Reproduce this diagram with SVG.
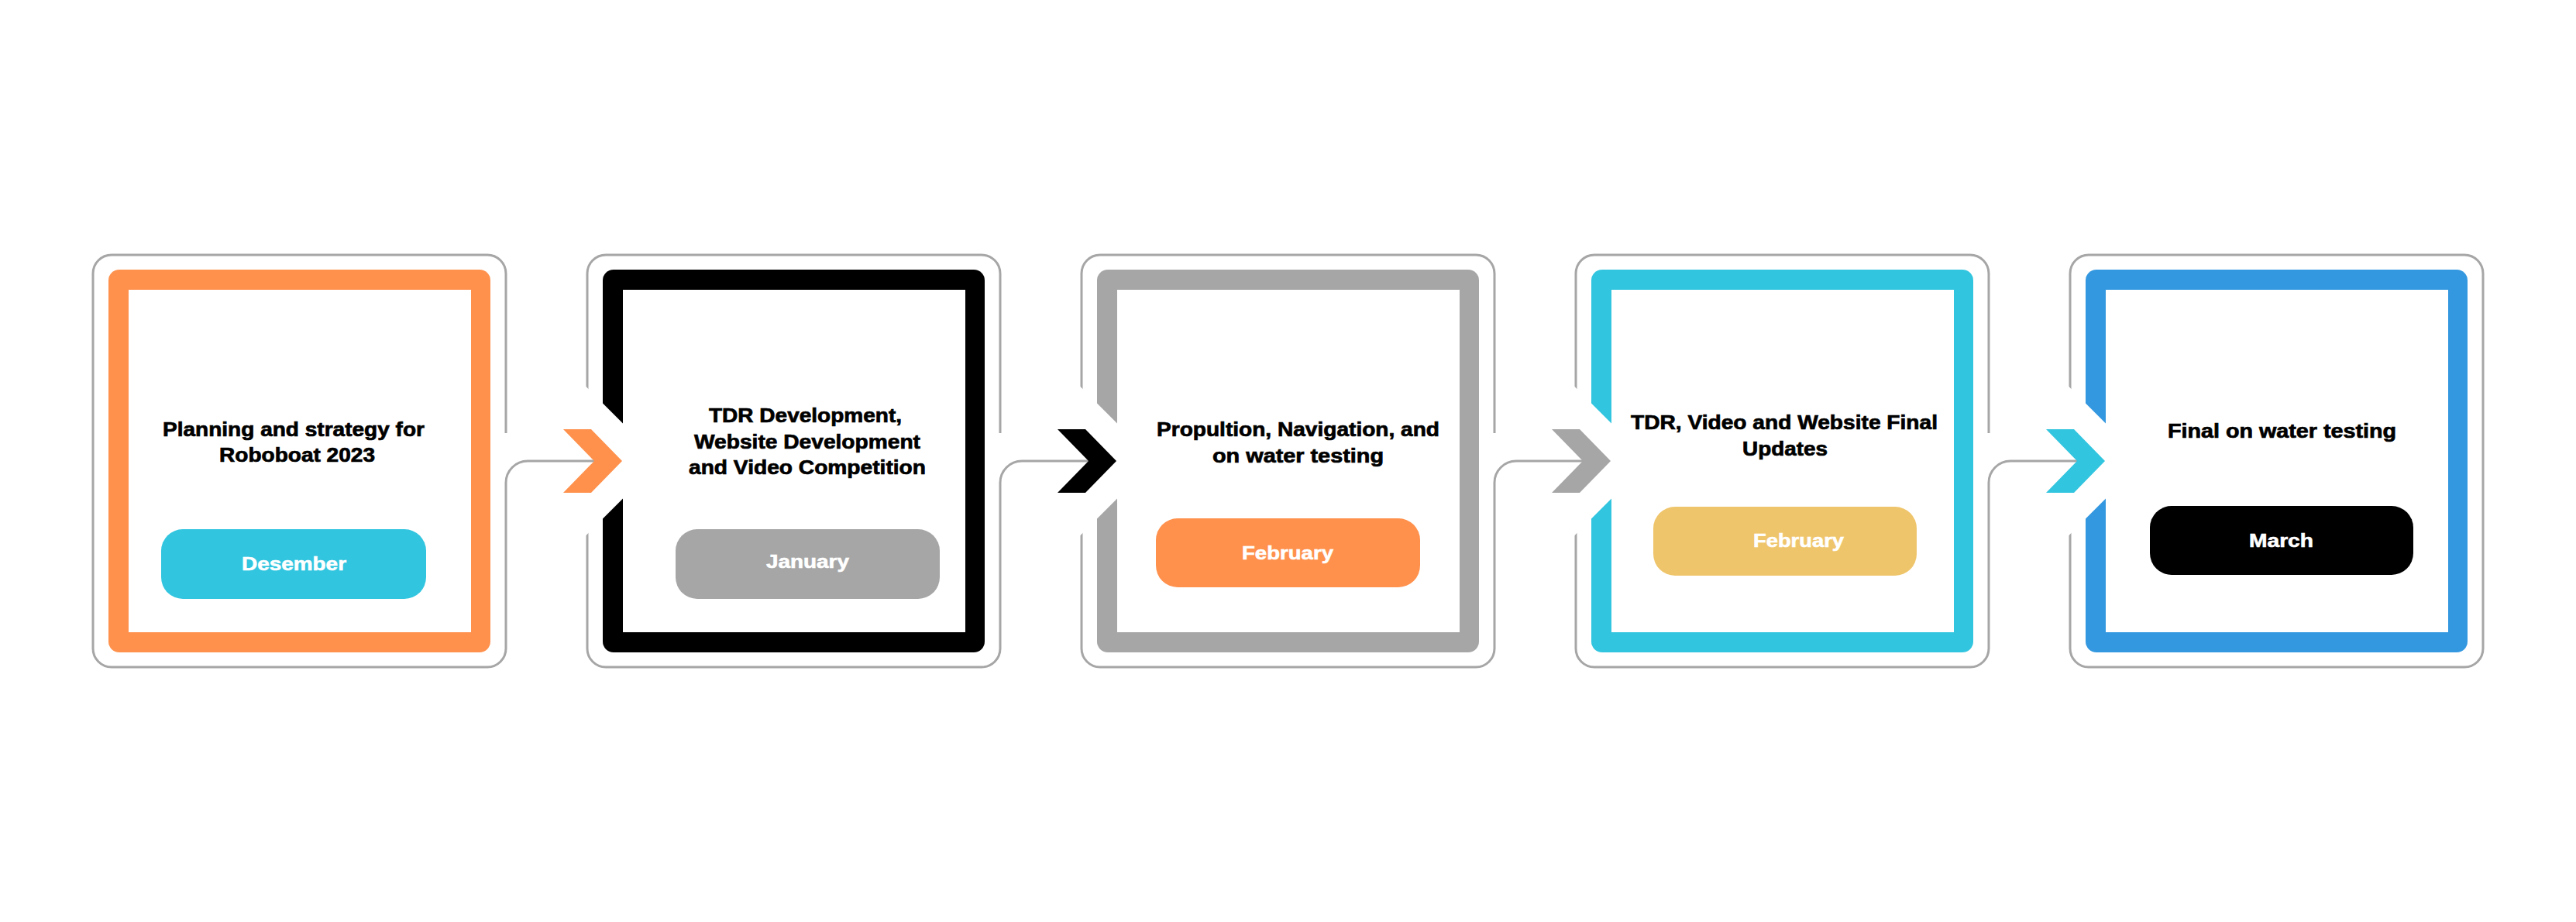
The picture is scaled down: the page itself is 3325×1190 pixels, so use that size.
<svg xmlns="http://www.w3.org/2000/svg" width="3325" height="1190" viewBox="0 0 3325 1190">
  <style>
    .outline { fill: none; stroke: #a6a6a6; stroke-width: 3; }
    .link { fill: none; stroke: #a6a6a6; stroke-width: 3; }
    .notch { fill: #ffffff; }
    .inner { fill: #ffffff; }
    .title { font-family: "Liberation Sans", Arial, sans-serif; font-weight: 700; font-size: 25px; fill: #000000; stroke: #000000; stroke-width: 0.7; }
    .month { font-family: "Liberation Sans", Arial, sans-serif; font-weight: 700; font-size: 24px; fill: #ffffff; stroke: #ffffff; stroke-width: 0.6; }
  </style>

  <rect x="0" y="0" width="3325" height="1190" fill="#ffffff"/>

  <!-- Step 1 -->
  <g id="step-1">
    <path class="outline" d="M653 559 V353 A24 24 0 0 0 629 329 H144 A24 24 0 0 0 120 353 V837 A24 24 0 0 0 144 861 H629 A24 24 0 0 0 653 837 V623"/>
    <rect x="140" y="348" width="493" height="494" rx="14" fill="#ff914d"/>
    <rect class="inner" x="166" y="374" width="442" height="442"/>
    <text class="title" x="210" y="563" textLength="338" lengthAdjust="spacingAndGlyphs">Planning and strategy for</text>
    <text class="title" x="283" y="596" textLength="201" lengthAdjust="spacingAndGlyphs">Roboboat 2023</text>
    <rect x="208" y="683" width="342" height="90" rx="28" fill="#32c5df"/>
    <text class="month" x="312" y="736" textLength="135" lengthAdjust="spacingAndGlyphs">Desember</text>
  </g>

  <!-- Step 2 -->
  <g id="step-2">
    <path class="outline" d="M1291 559 V353 A24 24 0 0 0 1267 329 H782 A24 24 0 0 0 758 353 V837 A24 24 0 0 0 782 861 H1267 A24 24 0 0 0 1291 837 V623"/>
    <rect x="778" y="348" width="493" height="494" rx="14" fill="#000000"/>
    <rect class="inner" x="804" y="374" width="442" height="442"/>
    <polygon class="notch" points="752,494.5 852.5,595 752,695.5"/>
    <text class="title" x="915" y="545" textLength="249" lengthAdjust="spacingAndGlyphs">TDR Development,</text>
    <text class="title" x="896" y="579" textLength="292" lengthAdjust="spacingAndGlyphs">Website Development</text>
    <text class="title" x="889" y="612" textLength="306" lengthAdjust="spacingAndGlyphs">and Video Competition</text>
    <rect x="872" y="683" width="341" height="90" rx="28" fill="#a6a6a6"/>
    <text class="month" x="989" y="733" textLength="107" lengthAdjust="spacingAndGlyphs">January</text>
  </g>

  <!-- Step 3 -->
  <g id="step-3">
    <path class="outline" d="M1929 559 V353 A24 24 0 0 0 1905 329 H1420 A24 24 0 0 0 1396 353 V837 A24 24 0 0 0 1420 861 H1905 A24 24 0 0 0 1929 837 V623"/>
    <rect x="1416" y="348" width="493" height="494" rx="14" fill="#a6a6a6"/>
    <rect class="inner" x="1442" y="374" width="442" height="442"/>
    <polygon class="notch" points="1390,494.5 1490.5,595 1390,695.5"/>
    <text class="title" x="1493" y="563" textLength="365" lengthAdjust="spacingAndGlyphs">Propultion, Navigation, and</text>
    <text class="title" x="1565" y="597" textLength="221" lengthAdjust="spacingAndGlyphs">on water testing</text>
    <rect x="1492" y="669" width="341" height="89" rx="28" fill="#ff914d"/>
    <text class="month" x="1603" y="722" textLength="118" lengthAdjust="spacingAndGlyphs">February</text>
  </g>

  <!-- Step 4 -->
  <g id="step-4">
    <path class="outline" d="M2567 559 V353 A24 24 0 0 0 2543 329 H2058 A24 24 0 0 0 2034 353 V837 A24 24 0 0 0 2058 861 H2543 A24 24 0 0 0 2567 837 V623"/>
    <rect x="2054" y="348" width="493" height="494" rx="14" fill="#32c5df"/>
    <rect class="inner" x="2080" y="374" width="442" height="442"/>
    <polygon class="notch" points="2028,494.5 2128.5,595 2028,695.5"/>
    <text class="title" x="2105" y="554" textLength="396" lengthAdjust="spacingAndGlyphs">TDR, Video and Website Final</text>
    <text class="title" x="2249" y="588" textLength="110" lengthAdjust="spacingAndGlyphs">Updates</text>
    <rect x="2134" y="654" width="340" height="89" rx="28" fill="#efc56c"/>
    <text class="month" x="2263" y="706" textLength="117" lengthAdjust="spacingAndGlyphs">February</text>
  </g>

  <!-- Step 5 -->
  <g id="step-5">
    <rect class="outline" x="2672" y="329" width="533" height="532" rx="24"/>
    <rect x="2692" y="348" width="493" height="494" rx="14" fill="#3498e0"/>
    <rect class="inner" x="2718" y="374" width="442" height="442"/>
    <polygon class="notch" points="2666,494.5 2766.5,595 2666,695.5"/>
    <text class="title" x="2798" y="565" textLength="295" lengthAdjust="spacingAndGlyphs">Final on water testing</text>
    <rect x="2775" y="653" width="340" height="89" rx="28" fill="#000000"/>
    <text class="month" x="2903" y="706" textLength="83" lengthAdjust="spacingAndGlyphs">March</text>
  </g>

  <!-- Connectors: rounded elbow lines ending in chevron arrowheads -->
  <g id="connectors">
    <path class="link" d="M653 623 A28 28 0 0 1 681 595 H767"/>
    <polygon points="727,554 763,554 803,595 763,636 727,636 767,595" fill="#ff914d"/>

    <path class="link" d="M1291 623 A28 28 0 0 1 1319 595 H1405"/>
    <polygon points="1365,554 1401,554 1441,595 1401,636 1365,636 1405,595" fill="#000000"/>

    <path class="link" d="M1929 623 A28 28 0 0 1 1957 595 H2043"/>
    <polygon points="2003,554 2039,554 2079,595 2039,636 2003,636 2043,595" fill="#a6a6a6"/>

    <path class="link" d="M2567 623 A28 28 0 0 1 2595 595 H2681"/>
    <polygon points="2641,554 2677,554 2717,595 2677,636 2641,636 2681,595" fill="#32c5df"/>
  </g>
</svg>
